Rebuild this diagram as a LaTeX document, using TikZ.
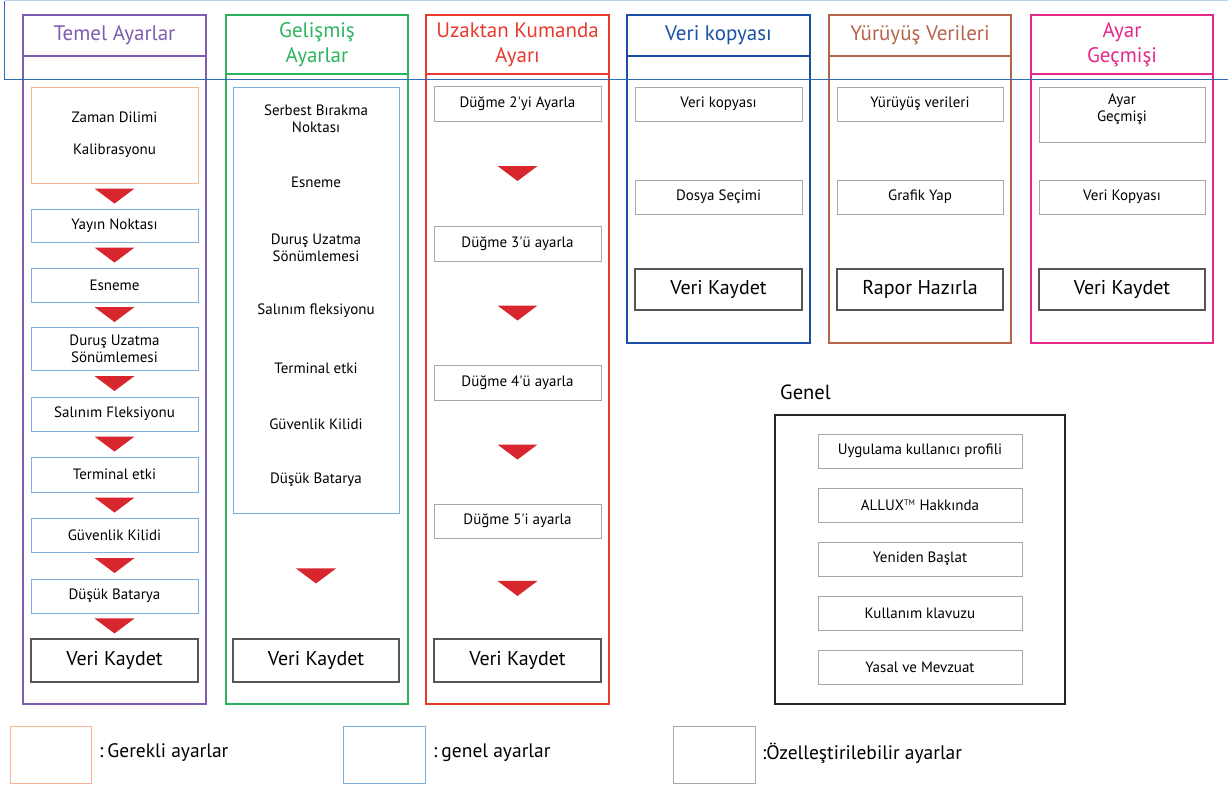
\documentclass[tikz,border=0pt]{standalone}
\usepackage{fontspec}
\setmainfont{PT Sans}
\usetikzlibrary{calc}
\definecolor{cpurple}{HTML}{7D5DB0}
\definecolor{cgreen}{HTML}{2DB35E}
\definecolor{cred}{HTML}{E83A2E}
\definecolor{cblue}{HTML}{1B4FA3}
\definecolor{cbrown}{HTML}{B5654B}
\definecolor{cpink}{HTML}{E5288A}
\definecolor{reqc}{HTML}{F6B595}
\definecolor{genc}{HTML}{7FAEDB}
\definecolor{cusc}{HTML}{A8A8A8}
\definecolor{savec}{HTML}{5A5555}
\definecolor{tric}{HTML}{D7262E}
\definecolor{outerc}{HTML}{2E6DB4}
\definecolor{outertop}{HTML}{BBD3EC}
\newcommand\rtri[2]{\fill[tric] ($(#1.south)!0.5!(#2.north)+(-20,-7.5)$) -- ++(40,0) -- ++(-20,15) -- cycle;}
\newcommand\ap{\textquotesingle}
\begin{document}
\begin{tikzpicture}[x=1pt,y=-1pt,
  every node/.style={font=\fontsize{15}{17}\selectfont, inner sep=0pt, align=center},
  colframe/.style={line width=1.2pt},
  hdr/.style={draw, line width=1.2pt, minimum width=183pt, font=\fontsize{21}{25}\selectfont},
  reqbox/.style={draw=reqc, line width=1pt, minimum width=167pt},
  genbox/.style={draw=genc, line width=1pt, minimum width=167pt},
  cusbox/.style={draw=cusc, line width=1pt, minimum width=167pt},
  savebox/.style={draw=savec, line width=1.2pt, minimum width=167pt, font=\fontsize{20}{22}\selectfont},
  legtext/.style={anchor=west, font=\fontsize{19.5}{22}\selectfont}
]
\useasboundingbox (0,0) rectangle (1228,787);

% ---------- Column 1: Temel Ayarlar ----------
\draw[colframe, cpurple] (23,15) rectangle (206,704);
\node[hdr, draw=cpurple, text=cpurple, minimum height=41pt] (h1) at (114.5,35.5) {Temel Ayarlar};
\node[reqbox, minimum height=96pt] (t0) at (114.5,135) {Zaman Dilimi\\[15pt]Kalibrasyonu};
\node[genbox, minimum height=33pt] (t1) at (114.5,225.5) {Yayın Noktası};
\node[genbox, minimum height=34pt] (t2) at (114.5,285) {Esneme};
\node[genbox, minimum height=43pt] (t3) at (114.5,348.5) {Duruş Uzatma\\Sönümlemesi};
\node[genbox, minimum height=34pt] (t4) at (114.5,414) {Salınım Fleksiyonu};
\node[genbox, minimum height=35pt] (t5) at (114.5,474.5) {Terminal etki};
\node[genbox, minimum height=34pt] (t6) at (114.5,535) {Güvenlik Kilidi};
\node[genbox, minimum height=34pt] (t7) at (114.5,596) {Düşük Batarya};
\node[savebox, minimum height=43pt] (t8) at (114.5,660.5) {Veri Kaydet};
\rtri{t0}{t1}\rtri{t1}{t2}\rtri{t2}{t3}\rtri{t3}{t4}
\rtri{t4}{t5}\rtri{t5}{t6}\rtri{t6}{t7}\rtri{t7}{t8}

% ---------- Column 2: Gelismis Ayarlar ----------
\draw[colframe, cgreen] (226,15) rectangle (408,704);
\node[hdr, draw=cgreen, text=cgreen, minimum width=182pt, minimum height=59pt] (h2) at (317,44.5) {Gelişmiş\\Ayarlar};
\node[genbox, minimum width=166pt, minimum height=426pt] (g0) at (316,300) {};
\node at (316,118.5) {Serbest Bırakma\\Noktası};
\node at (316,182) {Esneme};
\node at (316,247.5) {Duruş Uzatma\\Sönümlemesi};
\node at (316,311) {Salınım fleksiyonu};
\node at (316,368) {Terminal etki};
\node at (316,424) {Güvenlik Kilidi};
\node at (316,480) {Düşük Batarya};
\node[savebox, minimum width=166pt, minimum height=43pt] (g1) at (316,660.5) {Veri Kaydet};
\rtri{g0}{g1}

% ---------- Column 3: Uzaktan Kumanda Ayari ----------
\draw[colframe, cred] (426,15) rectangle (609,704);
\node[hdr, draw=cred, text=cred, minimum height=59pt] (h3) at (517.5,44.5) {Uzaktan Kumanda\\Ayarı};
\node[cusbox, minimum height=35pt] (u1) at (517.5,103.5) {Düğme 2\ap yi Ayarla};
\node[cusbox, minimum height=35pt] (u2) at (517.5,243.5) {Düğme 3\ap ü ayarla};
\node[cusbox, minimum height=35pt] (u3) at (517.5,382.5) {Düğme 4\ap ü ayarla};
\node[cusbox, minimum height=34pt] (u4) at (517.5,521) {Düğme 5\ap i ayarla};
\node[savebox, minimum height=43pt] (u5) at (517.5,660.5) {Veri Kaydet};
\rtri{u1}{u2}\rtri{u2}{u3}\rtri{u3}{u4}\rtri{u4}{u5}

% ---------- Column 4: Veri kopyasi ----------
\draw[colframe, cblue] (627,15) rectangle (810,343);
\node[hdr, draw=cblue, text=cblue, minimum height=41pt] (h4) at (718.5,35.5) {Veri kopyası};
\node[cusbox, minimum height=34pt] (v1) at (718.5,104) {Veri kopyası};
\node[cusbox, minimum height=34pt] (v2) at (718.5,197) {Dosya Seçimi};
\node[savebox, minimum height=41pt] (v3) at (718.5,289.5) {Veri Kaydet};

% ---------- Column 5: Yuruyus Verileri ----------
\draw[colframe, cbrown] (829,15) rectangle (1011,343);
\node[hdr, draw=cbrown, text=cbrown, minimum width=182pt, minimum height=41pt] (h5) at (920,35.5) {Yürüyüş Verileri};
\node[cusbox, minimum width=166pt, minimum height=34pt] (y1) at (920,104) {Yürüyüş verileri};
\node[cusbox, minimum width=166pt, minimum height=34pt] (y2) at (920,197) {Grafik Yap};
\node[savebox, minimum width=166pt, minimum height=41pt] (y3) at (920,289.5) {Rapor Hazırla};

% ---------- Column 6: Ayar Gecmisi ----------
\draw[colframe, cpink] (1031,15) rectangle (1213,343);
\node[hdr, draw=cpink, text=cpink, minimum width=182pt, minimum height=59pt] (h6) at (1122,44.5) {Ayar\\Geçmişi};
\node[cusbox, minimum width=166pt, minimum height=55pt] (a1) at (1122,114.5) {};
\node at (1122,109.5) {Ayar\\Geçmişi};
\node[cusbox, minimum width=166pt, minimum height=34pt] (a2) at (1122,197) {Veri Kopyası};
\node[savebox, minimum width=166pt, minimum height=41pt] (a3) at (1122,289.5) {Veri Kaydet};

% ---------- Outer blue band ----------
\draw[outerc, line width=1.2pt] (1230,79.5) -- (4.5,79.5) -- (4.5,0.8);
\draw[outertop, line width=1.2pt] (4.5,0.8) -- (1230,0.8);

% ---------- Genel ----------
\node[anchor=west, font=\fontsize{20.5}{22}\selectfont] (gl) at (780,392) {Genel};
\draw[line width=1.2pt, black!85] (775,415) rectangle (1065,704);
\node[cusbox, minimum width=204pt, minimum height=34pt] (n1) at (920,451) {Uygulama kullanıcı profili};
\node[cusbox, minimum width=204pt, minimum height=34pt] (n2) at (920,505) {ALLUX\textsuperscript{\fontsize{8}{8}\selectfont TM} Hakkında};
\node[cusbox, minimum width=204pt, minimum height=34pt] (n3) at (920,559) {Yeniden Başlat};
\node[cusbox, minimum width=204pt, minimum height=34pt] (n4) at (920,613) {Kullanım klavuzu};
\node[cusbox, minimum width=204pt, minimum height=34pt] (n5) at (920,667) {Yasal ve Mevzuat};

% ---------- Legend ----------
\node[draw=reqc, line width=1pt, minimum width=81pt, minimum height=57pt] (l1) at (50.5,754.5) {};
\node[legtext] (l1t) at (99,753) {:\hspace{4pt}Gerekli ayarlar};
\node[draw=genc, line width=1pt, minimum width=82pt, minimum height=57pt] (l2) at (384,754.5) {};
\node[legtext] (l2t) at (433,753) {:\hspace{4pt}genel ayarlar};
\node[draw=cusc, line width=1pt, minimum width=82pt, minimum height=57pt] (l3) at (714,754.5) {};
\node[legtext] (l3t) at (762,753) {:Özelleştirilebilir ayarlar};
\end{tikzpicture}
\end{document}
